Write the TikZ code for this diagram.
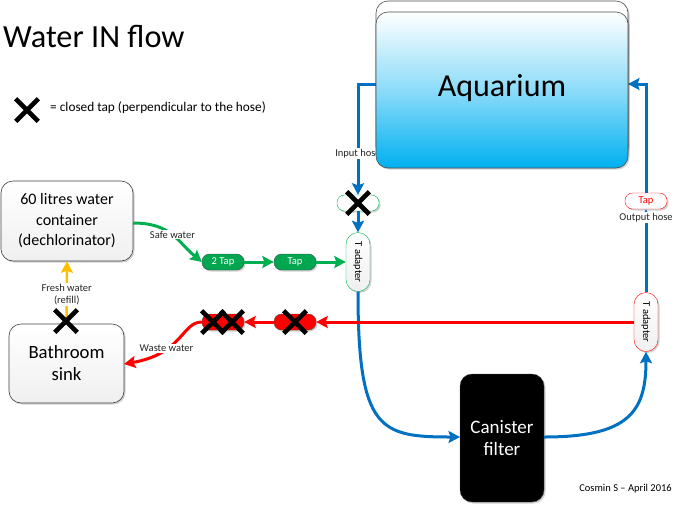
\documentclass[tikz,border=0pt]{standalone}
\usepackage{fontspec}
\setmainfont{Carlito}
\usetikzlibrary{arrows.meta,shapes.misc,shadows}

\definecolor{hoseblue}{HTML}{0070C0}
\definecolor{hosegreen}{HTML}{00B050}
\definecolor{tapgreen}{HTML}{00A650}
\definecolor{hosered}{HTML}{FF0000}
\definecolor{hoseyellow}{HTML}{FFC000}
\definecolor{aquablue}{HTML}{00B0F0}

\begin{document}
\begin{tikzpicture}[x=1pt,y=-1pt,>={Stealth[length=11.5pt,width=12pt,inset=2pt]},node distance=72pt,
                    font=\fontsize{10.5}{12}\selectfont]
  \tikzstyle{softshadow}=[drop shadow={shadow xshift=1.5pt,shadow yshift=-1.5pt,fill=black,opacity=0.18}]
  \tikzstyle{tank}=[draw=black!75,semithick,rounded corners=12pt,top color=white,bottom color=black!6,
                    softshadow,align=center,font=\fontsize{16}{20.5}\selectfont]
  \tikzstyle{tapbox}=[draw=black!70,thin,rounded corners=7.5pt,minimum width=42pt,minimum height=16pt,
                      inner sep=0pt,softshadow]
  \tikzstyle{adapter}=[thin,rounded corners=12pt,top color=white,bottom color=black!6,minimum width=24pt,
                       minimum height=59pt,inner sep=0pt,softshadow]
  \tikzstyle{closed}=[cross out,draw=black,line width=4.6pt,minimum size=18pt,inner sep=0pt]
  \tikzstyle{hose}=[->,line width=3pt]
  \tikzstyle{tag}=[fill=white,inner sep=1pt,align=center,text=black!85]

  \useasboundingbox (0,0) rectangle (674,504);

  \node[anchor=west,inner sep=0pt] (title) at (3,36) {\fontsize{32.3}{36}\selectfont Water IN flow};
  \node[closed] (legendx) at (27,110) {};
  \node[anchor=west,inner sep=0pt,font=\fontsize{13.3}{15}\selectfont] (legend) at (50,108) {= closed tap (perpendicular to the hose)};

  % left side
  \node[tank,minimum width=132pt,minimum height=80pt] (container) at (67,221)
    {60 litres water\\container\\(dechlorinator)};
  \node[tank,minimum width=115pt,minimum height=79pt,font=\fontsize{18.7}{22}\selectfont] (sink) at (66.5,363.5) {Bathroom\\sink};

  % taps
  \node[tapbox,fill=tapgreen,text=white] (twotap) at (223,262) {2 Tap};
  \node[tapbox,fill=tapgreen,text=white,right of=twotap] (tap) {Tap};
  \node[tapbox,fill=hosered] (redtwotap) at (223,322) {};
  \node[tapbox,fill=hosered,right of=redtwotap] (redtap) {};
  \node[tapbox,draw=hosegreen,fill=white] (intap) at (358,203) {};
  \node[tapbox,draw=hosered,fill=white,text=hosered] (outtap) at (646,201) {Tap};

  \node[adapter,draw=hosegreen] (inT) at (358,262) {\rotatebox{-90}{T adapter}};
  \node[adapter,draw=hosered] (outT) at (646,322) {\rotatebox{-90}{T adapter}};

  \node[fill=black,draw=black!70,rounded corners=12pt,minimum width=84pt,minimum height=128pt,softshadow,
        text=white,align=center,font=\fontsize{19}{22}\selectfont] (canister) at (502,438) {Canister\\filter};

  \coordinate (aquain) at (376,84);
  \coordinate (aquaout) at (628,84);
  \coordinate (inbend) at (358,84);
  \coordinate (outbend) at (646,84);
  \coordinate (canin) at (460,437);
  \coordinate (canout) at (544,437);
  \coordinate (sinkin) at (124,364);
  \coordinate (contout) at (133,223);

  % hoses
  \draw[hose,hoseblue] (aquain) -- (inbend) -- node[tag,pos=.63] (inputhose) {Input hose} (intap.north);
  \path[hose,hoseblue] (intap) edge (inT)
    (inT.south) edge[out=270,in=180,out distance=139pt,in distance=80pt] (canin)
    (canout) edge[out=0,in=270,out distance=85pt,in distance=60pt] (outT.south);
  \path[hose,hoseblue] (outT) edge node[tag,pos=.9] (outputhose) {Output hose} (outtap);
  \draw[hose,hoseblue] (outtap) -- (outbend) -- (aquaout);

  \path[hose,hosegreen] (contout) edge[out=0,in=140,out distance=38pt,in distance=32pt] node[tag,pos=.5] (safe) {Safe water} (twotap.west)
    (twotap) edge (tap)
    (tap) edge (inT);
  \path[hose,hosered] (outT) edge (redtap)
    (redtap) edge (redtwotap)
    (redtwotap.west) edge[out=180,in=10,out distance=20pt,in distance=60pt] node[tag,pos=.66] (waste) {Waste water} (sinkin);
  \draw[hose,hoseyellow,line width=2.4pt] (sink.north) -- node[tag,pos=.47] (fresh) {Fresh water\\(refill)} (container.south);

  % aquarium on top of the input label
  \node[draw=black!70,semithick,fill=white,rounded corners=12pt,minimum width=252pt,minimum height=158pt,softshadow] (glass) at (502,80) {};
  \node[draw=black!70,semithick,rounded corners=12pt,minimum width=252pt,minimum height=156pt,top color=white,
        bottom color=aquablue,middle color=aquablue!45,softshadow,font=\fontsize{32}{36}\selectfont] (aquarium) at (502,90) {\raisebox{10pt}{Aquarium}};

  % closed taps
  \node[closed] (xfresh) at (66,321) {};
  \node[closed] (xin) at (358,203) {};
  \node[closed] (xreda) at (213,322) {};
  \node[closed] (xredb) at (232,322) {};
  \node[closed] (xredc) at (295,322) {};

  \node[anchor=east,inner sep=0pt] (credit) at (672,489) {Cosmin S -- April 2016};
\end{tikzpicture}
\end{document}
